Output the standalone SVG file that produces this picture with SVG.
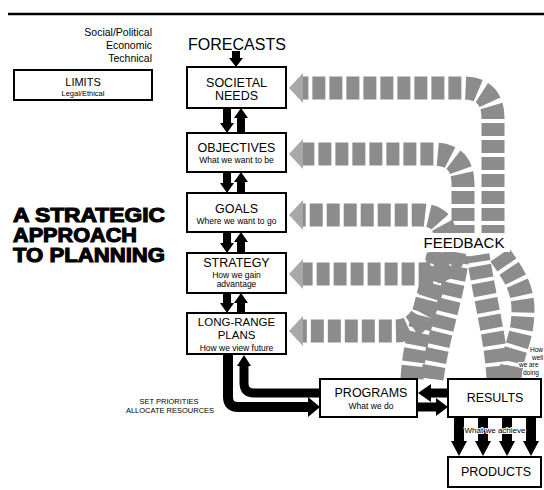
<svg xmlns="http://www.w3.org/2000/svg" width="544" height="490" viewBox="0 0 544 490">
<style>
.box{fill:#fff;stroke:#000;stroke-width:2}
.t{font-family:"Liberation Sans",Arial,Helvetica,sans-serif;fill:#000}
.h{font-size:12.5px;text-anchor:middle}
.s{font-size:8.5px;text-anchor:middle}
.fb{fill:none;stroke:#8c8c8c;stroke-width:23;stroke-dasharray:13 4}
.fh{fill:#a8a8a8}
.blk{fill:#000}
.bar{fill:none;stroke:#000}
.big{font-size:20px;font-weight:900;stroke:#000;stroke-width:1.1}
.halo{paint-order:stroke;stroke:#fff;stroke-width:2;stroke-linejoin:round}
</style>
<line x1="8" y1="14" x2="544" y2="14" stroke="#000" stroke-width="2.5"/>

<g id="context">
<text class="t" x="152" y="36" font-size="10.5" text-anchor="end">Social/Political</text>
<text class="t" x="152" y="49" font-size="10.5" text-anchor="end">Economic</text>
<text class="t" x="152" y="62" font-size="10.5" text-anchor="end">Technical</text>
</g>

<g id="title">
<text class="t big" x="13" y="222" textLength="152" lengthAdjust="spacingAndGlyphs">A STRATEGIC</text>
<text class="t big" x="13" y="242" textLength="124" lengthAdjust="spacingAndGlyphs">APPROACH</text>
<text class="t big" x="13" y="262" textLength="152" lengthAdjust="spacingAndGlyphs">TO PLANNING</text>
</g>

<g id="feedback">
<path class="fb" d="M412 379 C414 340 428 300 438 255"/>
<path class="fb" d="M432 379 C438 335 452 300 458 255"/>
<path class="fb" d="M498 379 C496 340 485 300 478 255"/>
<path class="fb" d="M510 379 C512 350 523 340 523 310 C523 285 510 270 500 255"/>
<path class="fb" d="M493 238 L493 118 Q493 88 463 88 L303 88"/>
<path class="fb" d="M463 238 L463 184 Q463 154 433 154 L303 154"/>
<path class="fb" d="M445 238 Q445 215 420 215 L303 215"/>
<path class="fb" d="M455 252 C452 268 440 274 420 274 L303 274"/>
<path class="fb" d="M440 252 C430 300 425 331 395 331 L303 331"/>
<polygon class="fh" points="289,88 303,73 303,103"/>
<polygon class="fh" points="289,154 303,139 303,169"/>
<polygon class="fh" points="289,215 303,200 303,230"/>
<polygon class="fh" points="289,274 303,259 303,289"/>
<polygon class="fh" points="289,331 303,316 303,346"/>
<rect x="418" y="233" width="92" height="19" fill="#fff"/>
<text class="t" x="464" y="248" font-size="15" text-anchor="middle">FEEDBACK</text>
</g>

<g id="connectors">
<path class="blk" d="M232 51H240V58H243L236 67L229 58H232Z"/>
<path class="blk" d="M223 108H231V123H234L227 133L220 123H223Z"/>
<path class="blk" d="M241 108L248 118H245V133H237V118H234Z"/>
<path class="blk" d="M223 172H231V183H234L227 193L220 183H223Z"/>
<path class="blk" d="M241 172L248 182H245V193H237V182H234Z"/>
<path class="blk" d="M223 232H231V243H234L227 253L220 243H223Z"/>
<path class="blk" d="M241 232L248 242H245V253H237V242H234Z"/>
<path class="blk" d="M223 293H231V303H234L227 313L220 303H223Z"/>
<path class="blk" d="M241 293L248 303H245V313H237V303H234Z"/>
<path class="bar" stroke-width="10" d="M228 355 V397 Q228 407 238 407 H309"/>
<polygon class="blk" points="308,397 320,407 308,417"/>
<path class="bar" stroke-width="9" d="M320 393 H254 Q244 393 244 383 V365"/>
<polygon class="blk" points="244,355 251,366 237,366"/>
<path class="bar" stroke-width="9" d="M448 393 H430"/>
<polygon class="blk" points="418,393 431,384 431,402"/>
<path class="bar" stroke-width="9" d="M418 407 H437"/>
<polygon class="blk" points="448,407 436,398 436,416"/>
<path class="blk" d="M454 418H464V441H467L459 456L451 441H454Z"/>
<path class="blk" d="M478 418H488V441H491L483 456L475 441H478Z"/>
<path class="blk" d="M502 418H512V441H515L507 456L499 441H502Z"/>
<path class="blk" d="M526 418H536V441H539L531 456L523 441H526Z"/>
<text class="t halo" x="495" y="433" font-size="8" text-anchor="middle" fill="#000">What we achieve</text>
<text class="t" x="169" y="404" font-size="7.5" text-anchor="middle">SET PRIORITIES</text>
<text class="t" x="170" y="413" font-size="7.5" text-anchor="middle">ALLOCATE RESOURCES</text>
<text class="t halo" x="530" y="352" font-size="6.5" fill="#000">How</text>
<text class="t halo" x="532" y="359.5" font-size="6.5" fill="#000">well</text>
<text class="t halo" x="519" y="367" font-size="6.5" fill="#000">we are</text>
<text class="t halo" x="523" y="374.5" font-size="6.5" fill="#000">doing</text>
</g>

<g id="limits">
<rect class="box" x="14" y="70" width="138" height="30"/>
<text class="t" x="83" y="86" font-size="11" text-anchor="middle">LIMITS</text>
<text class="t" x="83" y="96" font-size="7.5" text-anchor="middle">Legal/Ethical</text>
</g>

<g id="forecasts">
<text class="t" x="237" y="50" font-size="16" text-anchor="middle">FORECASTS</text>
</g>

<g id="societal-needs">
<rect class="box" x="187" y="67" width="99" height="41"/>
<text class="t h" x="236.5" y="87">SOCIETAL</text>
<text class="t h" x="236.5" y="100">NEEDS</text>
</g>

<g id="objectives">
<rect class="box" x="187" y="133" width="99" height="39"/>
<text class="t h" x="236.5" y="152">OBJECTIVES</text>
<text class="t s" x="236.5" y="163">What we want to be</text>
</g>

<g id="goals">
<rect class="box" x="187" y="193" width="99" height="39"/>
<text class="t h" x="236.5" y="213">GOALS</text>
<text class="t s" x="236.5" y="224">Where we want to go</text>
</g>

<g id="strategy">
<rect class="box" x="187" y="253" width="99" height="40"/>
<text class="t h" x="236.5" y="267">STRATEGY</text>
<text class="t s" x="236.5" y="278">How we gain</text>
<text class="t s" x="236.5" y="287">advantage</text>
</g>

<g id="long-range-plans">
<rect class="box" x="187" y="313" width="99" height="41"/>
<text class="t" x="236.5" y="326" font-size="11.5" text-anchor="middle">LONG-RANGE</text>
<text class="t" x="236.5" y="339" font-size="11.5" text-anchor="middle">PLANS</text>
<text class="t s" x="236.5" y="351">How we view future</text>
</g>

<g id="programs">
<rect class="box" x="320" y="379" width="97" height="38"/>
<text class="t h" x="371" y="397">PROGRAMS</text>
<text class="t s" x="371" y="409">What we do</text>
</g>

<g id="results">
<rect class="box" x="448" y="379" width="93" height="38"/>
<text class="t h" x="495" y="402">RESULTS</text>
</g>

<g id="products">
<rect class="box" x="448" y="457" width="93" height="30"/>
<text class="t h" x="496" y="476">PRODUCTS</text>
</g>
</svg>
